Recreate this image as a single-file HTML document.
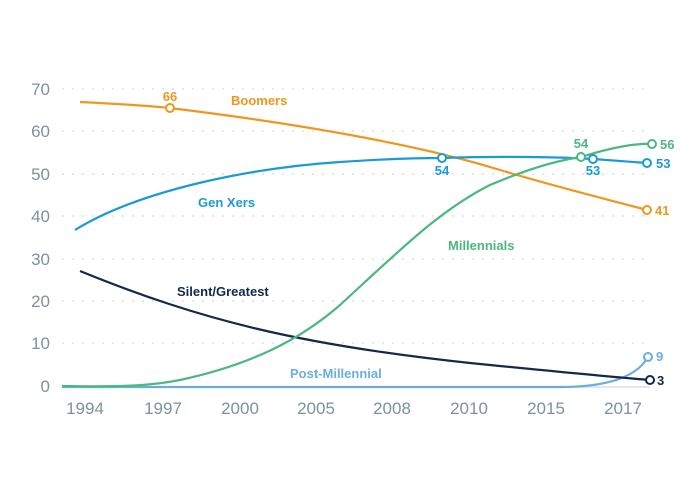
<!DOCTYPE html><html><head><style>body{margin:0;background:#fff}svg{display:block}text{font-family:"Liberation Sans",sans-serif}</style></head><body>
<svg width="700" height="480" viewBox="0 0 700 480">
<g stroke="#d5d9dc" stroke-width="1.3" stroke-dasharray="2,8">
<line x1="62" y1="89" x2="650" y2="89"/><line x1="62" y1="131" x2="650" y2="131"/><line x1="62" y1="174" x2="650" y2="174"/><line x1="62" y1="216" x2="650" y2="216"/><line x1="62" y1="259" x2="650" y2="259"/><line x1="62" y1="301" x2="650" y2="301"/><line x1="62" y1="343" x2="650" y2="343"/></g>
<line x1="62" y1="387" x2="650" y2="387" stroke="#e3e7ea" stroke-width="2"/>
<g fill="#7d929c" font-size="17" text-anchor="end">
<text x="50" y="95">70</text><text x="50" y="137">60</text><text x="50" y="180">50</text><text x="50" y="222">40</text><text x="50" y="265">30</text><text x="50" y="307">20</text><text x="50" y="349">10</text><text x="50" y="392">0</text></g>
<g fill="#7d929c" font-size="17" text-anchor="middle">
<text x="85" y="414">1994</text><text x="163" y="414">1997</text><text x="240" y="414">2000</text><text x="316" y="414">2005</text><text x="392" y="414">2008</text><text x="469" y="414">2010</text><text x="546" y="414">2015</text><text x="623" y="414">2017</text></g>
<g fill="none" stroke-width="2.2">
<path d="M62,387 L560,387 C600,387 635,380 648,357" stroke="#6aaee0"/>
<path d="M80,102 C120,104 150,106 170,108 C300,124 420,145 500,170 C560,188 610,200 647,210" stroke="#f0961e"/>
<path d="M75,230 C140,190 250,168 340,162 C400,158 430,158 442,158 C500,156 560,157 593,159 L647,163" stroke="#1b9ad6"/>
<path d="M80,271 C200,320 300,345 470,363 C560,372 610,377 650,380" stroke="#13294b"/>
<path d="M62,386 C120,387 150,386 180,380 C250,365 300,340 340,305 C400,250 440,210 490,185 C530,168 560,160 581,157 C610,148 635,143 652,144" stroke="#4cb77f"/>
</g>
<g fill="#fff" stroke-width="2">
<circle cx="170" cy="108" r="4" stroke="#f0961e"/><circle cx="647" cy="210" r="4" stroke="#f0961e"/>
<circle cx="442" cy="158" r="4" stroke="#1b9ad6"/><circle cx="593" cy="159" r="4" stroke="#1b9ad6"/><circle cx="647" cy="163" r="4" stroke="#1b9ad6"/>
<circle cx="581" cy="157" r="4" stroke="#4cb77f"/><circle cx="652" cy="144" r="4" stroke="#4cb77f"/>
<circle cx="648" cy="357" r="4" stroke="#6aaee0"/><circle cx="650" cy="380" r="4" stroke="#13294b"/></g>
<g font-size="13" font-weight="bold">
<text x="170" y="101" fill="#f0961e" text-anchor="middle">66</text>
<text x="231" y="105" fill="#f0961e">Boomers</text>
<text x="655" y="215" fill="#f0961e">41</text>
<text x="198" y="207" fill="#1b9ad6">Gen Xers</text>
<text x="442" y="175" fill="#1b9ad6" text-anchor="middle">54</text>
<text x="593" y="175" fill="#1b9ad6" text-anchor="middle">53</text>
<text x="656" y="168" fill="#1b9ad6">53</text>
<text x="581" y="148" fill="#4cb77f" text-anchor="middle">54</text>
<text x="660" y="149" fill="#4cb77f">56</text>
<text x="448" y="250" fill="#4cb77f">Millennials</text>
<text x="177" y="296" fill="#13294b">Silent/Greatest</text>
<text x="290" y="378" fill="#6aaee0">Post-Millennial</text>
<text x="656" y="361" fill="#6aaee0">9</text>
<text x="657" y="385" fill="#13294b">3</text>
</g>
</svg></body></html>
